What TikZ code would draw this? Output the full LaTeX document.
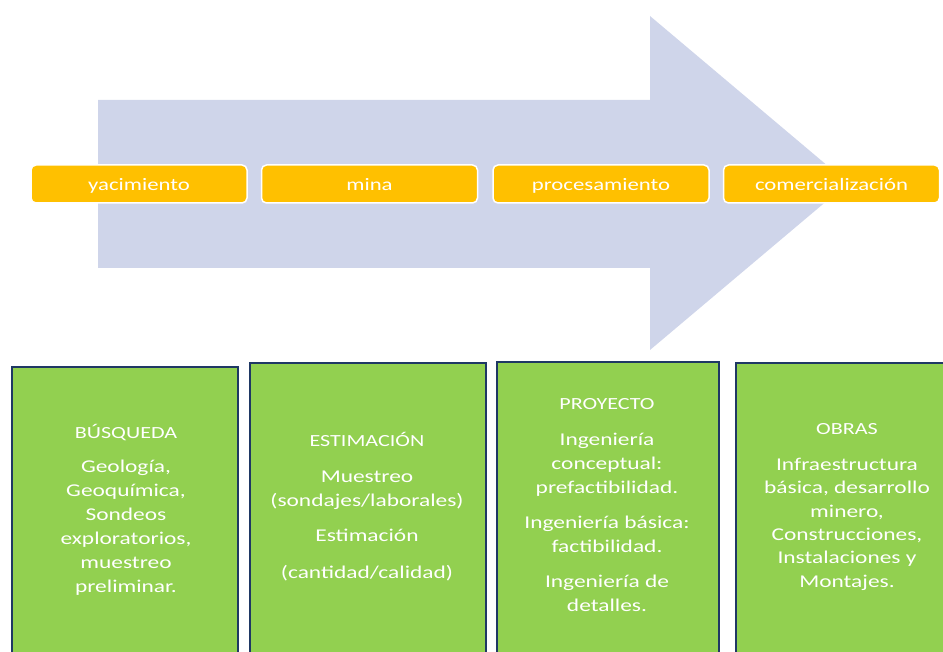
\documentclass[tikz,border=0pt]{standalone}
\usepackage{fontspec}
\setmainfont{Carlito}[FakeStretch=1.3]
\definecolor{arrowblue}{HTML}{CFD5EA}
\definecolor{gold}{HTML}{FFC000}
\definecolor{leaf}{HTML}{92D050}
\definecolor{navy}{HTML}{1F3864}
\newcommand\phhead{\fontsize{17}{18}\selectfont}
\begin{document}
\begin{tikzpicture}[x=1pt,y=-1pt,
  stage/.style={draw=white,line width=1.5pt,fill=gold,rounded corners=5pt,
    minimum width=216pt,minimum height=38pt,inner sep=0pt,text=white,
    text height=12.5pt,text depth=0pt,
    font=\fontsize{17.5}{20}\selectfont},
  phase/.style={draw=navy,line width=1.8pt,fill=leaf,anchor=north west,inner sep=0pt},
  phasetext/.style={anchor=north,inner sep=0pt,text=white,align=center,
    font=\fontsize{18}{24}\selectfont}]
\useasboundingbox (0,0) rectangle (943,652);
\clip (0,0) rectangle (943,652);
\fill[arrowblue] (98,100) -- (650,100) -- (650,16) -- (848,183) -- (650,350) -- (650,268) -- (98,268) -- cycle;
\node[stage] (s1) at (139,184) {yacimiento};
\node[stage] (s2) at (369.5,184) {mina};
\node[stage] (s3) at (601,184) {procesamiento};
\node[stage] (s4) at (831.5,184) {comercialización};
\node[phase,minimum width=226pt,minimum height=300pt] (p1) at (11,366) {};
\node[phase,minimum width=236pt,minimum height=300pt] (p2) at (249,362) {};
\node[phase,minimum width=222pt,minimum height=300pt] (p3) at (496,361) {};
\node[phase,minimum width=215pt,minimum height=300pt] (p4) at (735,362) {};
\node[phasetext] (t1) at (126,424) {{\phhead BÚSQUEDA}\\[10pt]Geología,\\Geoquímica,\\Sondeos\\exploratorios,\\muestreo\\preliminar.};
\node[phasetext] (t2) at (367,432) {{\phhead ESTIMACIÓN}\\[12pt]Muestreo\\(sondajes/laborales)\\[11pt]Estimación\\[13pt](cantidad/calidad)};
\node[phasetext] (t3) at (607,398) {{\phhead PROYECTO}\\[12pt]Ingeniería\\conceptual:\\prefactibilidad.\\[11pt]Ingeniería básica:\\factibilidad.\\[11pt]Ingeniería de\\detalles.};
\node[phasetext,font=\fontsize{18}{23.3}\selectfont] (t4) at (847,423) {{\phhead OBRAS}\\[13pt]Infraestructura\\básica, desarrollo\\minero,\\Construcciones,\\Instalaciones y\\Montajes.};
\end{tikzpicture}
\end{document}
